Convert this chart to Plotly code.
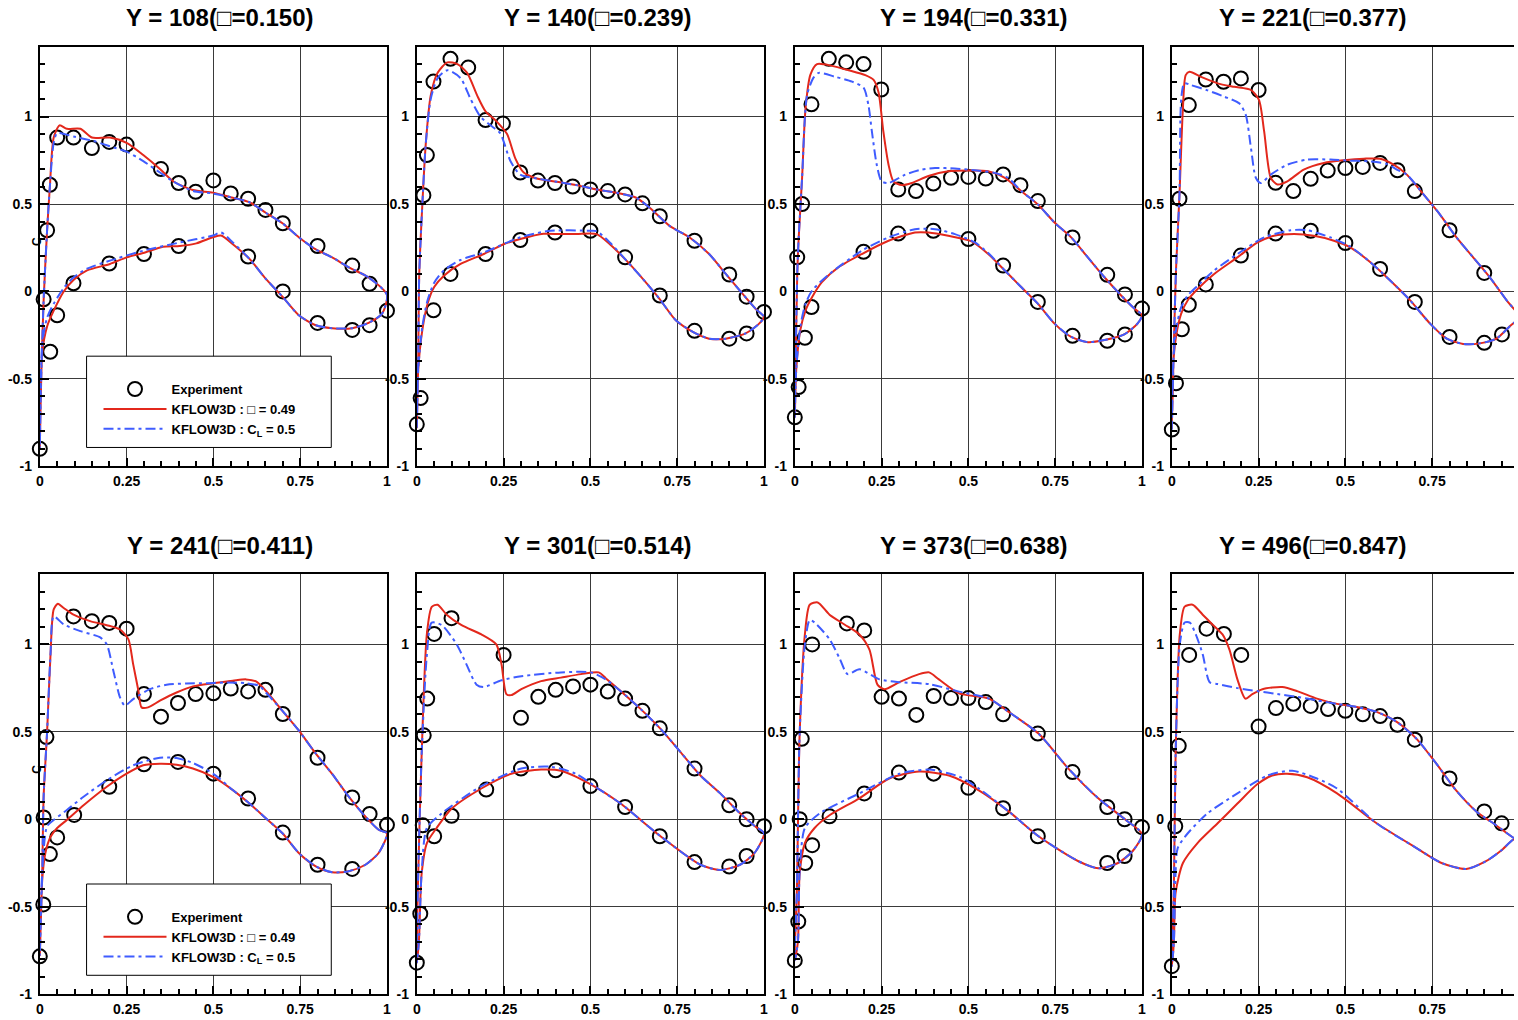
import plotly.graph_objects as go

W, H = 1518, 1020

titles = ["Y = 108(□=0.150)", "Y = 140(□=0.239)", "Y = 194(□=0.331)", "Y = 221(□=0.377)",
          "Y = 241(□=0.411)", "Y = 301(□=0.514)", "Y = 373(□=0.638)", "Y = 496(□=0.847)"]
legend_names = ["Experiment", "KFLOW3D : □ = 0.49", "KFLOW3D : C<sub>L</sub> = 0.5"]
x_tickvals = [0, 0.25, 0.5, 0.75, 1]
x_ticktext = ["0", "0.25", "0.5", "0.75", "1"]
y_tickvals = [-1, -0.5, 0, 0.5, 1]
y_ticktext = ["-1", "-0.5", "0", "0.5", "1"]

# ---------------- Panel 1 ----------------
p1_exp_x = [0, 0.011, 0.021, 0.029, 0.05, 0.097, 0.15, 0.2, 0.25, 0.349, 0.40, 0.449, 0.5, 0.55, 0.6, 0.65, 0.70, 0.80, 0.90, 0.95, 0.03, 0.05, 0.097, 0.2, 0.3, 0.4, 0.6, 0.7, 0.8, 0.9, 0.95, 1.0]
p1_exp_y = [-0.90, -0.045, 0.35, 0.61, 0.88, 0.88, 0.82, 0.855, 0.84, 0.70, 0.62, 0.57, 0.635, 0.56, 0.53, 0.466, 0.39, 0.26, 0.148, 0.044, -0.345, -0.136, 0.047, 0.16, 0.214, 0.26, 0.20, 0.0, -0.18, -0.22, -0.193, -0.11]
p1_red_up_x = [0, 0.004, 0.011, 0.021, 0.029, 0.040, 0.057, 0.078, 0.117, 0.15, 0.202, 0.25, 0.298, 0.346, 0.384, 0.441, 0.499, 0.556, 0.604, 0.651, 0.699, 0.746, 0.795, 0.842, 0.89, 0.947, 1.0]
p1_red_up_y = [-0.9, -0.5, -0.05, 0.35, 0.6, 0.88, 0.95, 0.93, 0.93, 0.88, 0.88, 0.85, 0.78, 0.70, 0.63, 0.58, 0.565, 0.536, 0.51, 0.45, 0.39, 0.31, 0.24, 0.195, 0.138, 0.08, -0.02]
p1_blue_up_x = [0, 0.004, 0.011, 0.021, 0.029, 0.040, 0.05, 0.097, 0.155, 0.202, 0.25, 0.298, 0.346, 0.384, 0.441, 0.499, 0.556, 0.604, 0.651, 0.699, 0.746, 0.795, 0.842, 0.89, 0.947, 1.0]
p1_blue_up_y = [-0.9, -0.5, -0.05, 0.35, 0.6, 0.85, 0.905, 0.886, 0.86, 0.83, 0.80, 0.745, 0.68, 0.63, 0.575, 0.56, 0.536, 0.51, 0.45, 0.39, 0.31, 0.24, 0.195, 0.138, 0.08, -0.02]
p1_red_lo_x = [0, 0.007, 0.021, 0.04, 0.069, 0.097, 0.136, 0.202, 0.25, 0.298, 0.355, 0.403, 0.451, 0.499, 0.522, 0.556, 0.604, 0.651, 0.699, 0.746, 0.795, 0.842, 0.90, 0.947, 0.986, 1.0]
p1_red_lo_y = [-0.9, -0.35, -0.2, -0.11, 0.0, 0.066, 0.12, 0.157, 0.195, 0.22, 0.256, 0.26, 0.275, 0.31, 0.32, 0.27, 0.186, 0.072, -0.03, -0.136, -0.193, -0.21, -0.21, -0.18, -0.127, -0.02]
p1_blue_lo_x = [0, 0.007, 0.021, 0.04, 0.069, 0.097, 0.136, 0.202, 0.298, 0.403, 0.499, 0.522, 0.556, 0.604, 0.651, 0.699, 0.746, 0.795, 0.842, 0.90, 0.947, 0.986, 1.0]
p1_blue_lo_y = [-0.9, -0.3, -0.15, -0.07, 0.02, 0.08, 0.13, 0.176, 0.233, 0.28, 0.32, 0.337, 0.28, 0.186, 0.072, -0.03, -0.136, -0.193, -0.21, -0.21, -0.18, -0.127, -0.02]

# ---------------- Panel 2 ----------------
p2_exp_x = [0, 0.011, 0.019, 0.029, 0.048, 0.097, 0.148, 0.198, 0.248, 0.298, 0.349, 0.398, 0.449, 0.5, 0.55, 0.6, 0.65, 0.7, 0.8, 0.9, 0.95, 1.0, 0.048, 0.097, 0.198, 0.298, 0.398, 0.5, 0.6, 0.7, 0.8, 0.9, 0.95]
p2_exp_y = [-0.76, -0.61, 0.55, 0.78, 1.2, 1.33, 1.28, 0.98, 0.96, 0.68, 0.634, 0.62, 0.60, 0.583, 0.574, 0.555, 0.504, 0.43, 0.29, 0.097, -0.03, -0.117, -0.108, 0.10, 0.214, 0.294, 0.337, 0.347, 0.195, -0.023, -0.225, -0.27, -0.24]
p2_red_up_x = [0, 0.004, 0.007, 0.016, 0.026, 0.04, 0.06, 0.088, 0.117, 0.145, 0.174, 0.198, 0.231, 0.26, 0.284, 0.308, 0.346, 0.403, 0.46, 0.518, 0.575, 0.632, 0.67, 0.728, 0.785, 0.842, 0.89, 0.938, 0.976, 1.0]
p2_red_up_y = [-0.78, -0.4, 0.1, 0.5, 0.85, 1.12, 1.25, 1.31, 1.30, 1.25, 1.12, 1.03, 0.97, 0.90, 0.76, 0.68, 0.646, 0.627, 0.608, 0.583, 0.564, 0.536, 0.48, 0.375, 0.31, 0.214, 0.10, -0.013, -0.1, -0.146]
p2_blue_up_x = [0, 0.004, 0.007, 0.016, 0.026, 0.04, 0.06, 0.088, 0.126, 0.155, 0.183, 0.212, 0.24, 0.27, 0.298, 0.346, 0.403, 0.46, 0.518, 0.575, 0.632, 0.67, 0.728, 0.785, 0.842, 0.89, 0.938, 0.976, 1.0]
p2_blue_up_y = [-0.78, -0.4, 0.1, 0.5, 0.85, 1.10, 1.22, 1.265, 1.22, 1.10, 1.0, 0.95, 0.905, 0.744, 0.668, 0.646, 0.627, 0.608, 0.583, 0.564, 0.536, 0.48, 0.375, 0.31, 0.214, 0.10, -0.013, -0.1, -0.146]
p2_red_lo_x = [0, 0.004, 0.016, 0.031, 0.05, 0.078, 0.126, 0.193, 0.25, 0.298, 0.365, 0.413, 0.46, 0.518, 0.556, 0.604, 0.651, 0.699, 0.746, 0.795, 0.842, 0.89, 0.947, 0.986, 1.0]
p2_red_lo_y = [-0.78, -0.45, -0.22, -0.07, 0.025, 0.09, 0.157, 0.214, 0.27, 0.30, 0.33, 0.328, 0.328, 0.328, 0.27, 0.176, 0.072, -0.042, -0.165, -0.231, -0.27, -0.27, -0.24, -0.184, -0.146]
p2_blue_lo_x = [0, 0.004, 0.016, 0.031, 0.05, 0.078, 0.126, 0.193, 0.298, 0.385, 0.50, 0.518, 0.556, 0.604, 0.651, 0.699, 0.746, 0.795, 0.842, 0.89, 0.947, 0.986, 1.0]
p2_blue_lo_y = [-0.78, -0.45, -0.2, -0.05, 0.05, 0.12, 0.18, 0.223, 0.31, 0.347, 0.347, 0.345, 0.28, 0.176, 0.072, -0.042, -0.165, -0.231, -0.27, -0.27, -0.24, -0.184, -0.146]

# ---------------- Panel 3 ----------------
p3_exp_x = [0, 0.011, 0.007, 0.021, 0.048, 0.098, 0.148, 0.198, 0.249, 0.298, 0.349, 0.399, 0.45, 0.5, 0.55, 0.6, 0.65, 0.70, 0.80, 0.90, 0.951, 1.0, 0.029, 0.048, 0.198, 0.298, 0.399, 0.5, 0.6, 0.70, 0.80, 0.90, 0.951]
p3_exp_y = [-0.72, -0.547, 0.195, 0.50, 1.07, 1.33, 1.31, 1.30, 1.155, 0.583, 0.574, 0.617, 0.65, 0.655, 0.646, 0.669, 0.608, 0.517, 0.309, 0.095, -0.017, -0.098, -0.265, -0.089, 0.227, 0.331, 0.347, 0.30, 0.148, -0.06, -0.254, -0.282, -0.246]
p3_red_up_x = [0, 0.007, 0.011, 0.021, 0.031, 0.045, 0.064, 0.107, 0.155, 0.203, 0.227, 0.241, 0.255, 0.27, 0.284, 0.308, 0.337, 0.385, 0.442, 0.5, 0.557, 0.605, 0.652, 0.70, 0.748, 0.796, 0.844, 0.892, 0.94, 0.978, 1.0]
p3_red_up_y = [-0.72, 0.1, 0.3, 0.65, 1.05, 1.24, 1.30, 1.29, 1.265, 1.237, 1.21, 1.14, 0.915, 0.725, 0.63, 0.608, 0.62, 0.66, 0.687, 0.691, 0.687, 0.65, 0.574, 0.498, 0.394, 0.309, 0.195, 0.081, -0.023, -0.098, -0.136]
p3_blue_up_x = [0, 0.007, 0.011, 0.021, 0.035, 0.053, 0.069, 0.117, 0.165, 0.198, 0.212, 0.222, 0.236, 0.25, 0.27, 0.318, 0.366, 0.404, 0.461, 0.519, 0.576, 0.614, 0.652, 0.70, 0.748, 0.796, 0.844, 0.892, 0.94, 0.978, 1.0]
p3_blue_up_y = [-0.72, 0.1, 0.3, 0.65, 1.12, 1.22, 1.25, 1.227, 1.2, 1.165, 1.066, 0.915, 0.725, 0.63, 0.62, 0.668, 0.697, 0.706, 0.703, 0.693, 0.678, 0.65, 0.574, 0.498, 0.394, 0.309, 0.195, 0.081, -0.023, -0.098, -0.136]
p3_red_lo_x = [0, 0.004, 0.016, 0.031, 0.05, 0.078, 0.126, 0.193, 0.27, 0.346, 0.385, 0.442, 0.509, 0.557, 0.605, 0.652, 0.70, 0.748, 0.796, 0.844, 0.892, 0.949, 0.987, 1.0]
p3_red_lo_y = [-0.72, -0.45, -0.22, -0.108, -0.032, 0.053, 0.138, 0.214, 0.29, 0.337, 0.337, 0.318, 0.286, 0.214, 0.12, 0.025, -0.07, -0.184, -0.26, -0.29, -0.278, -0.246, -0.184, -0.136]
p3_blue_lo_x = [0, 0.004, 0.016, 0.031, 0.05, 0.10, 0.193, 0.27, 0.346, 0.404, 0.461, 0.519, 0.557, 0.605, 0.652, 0.70, 0.748, 0.796, 0.844, 0.892, 0.949, 0.987, 1.0]
p3_blue_lo_y = [-0.72, -0.45, -0.2, -0.07, 0.006, 0.10, 0.233, 0.309, 0.356, 0.356, 0.328, 0.28, 0.22, 0.12, 0.025, -0.07, -0.184, -0.26, -0.29, -0.278, -0.246, -0.184, -0.136]

# ---------------- Panel 4 ----------------
p4_exp_x = [0, 0.012, 0.022, 0.049, 0.098, 0.149, 0.199, 0.25, 0.299, 0.35, 0.40, 0.449, 0.50, 0.55, 0.60, 0.65, 0.70, 0.80, 0.90, 1.0, 0.029, 0.049, 0.098, 0.199, 0.299, 0.40, 0.50, 0.60, 0.70, 0.80, 0.90, 0.951]
p4_exp_y = [-0.79, -0.525, 0.53, 1.066, 1.212, 1.199, 1.218, 1.152, 0.621, 0.574, 0.644, 0.691, 0.706, 0.712, 0.735, 0.693, 0.574, 0.35, 0.106, -0.07, -0.216, -0.076, 0.04, 0.205, 0.331, 0.347, 0.277, 0.129, -0.06, -0.26, -0.294, -0.246]
p4_red_up_x = [0, 0.006, 0.012, 0.022, 0.032, 0.04, 0.051, 0.084, 0.132, 0.18, 0.228, 0.251, 0.266, 0.285, 0.304, 0.333, 0.38, 0.438, 0.495, 0.553, 0.60, 0.639, 0.677, 0.725, 0.772, 0.82, 0.868, 0.916, 0.964, 1.0]
p4_red_up_y = [-0.79, -0.3, 0.12, 0.55, 1.05, 1.237, 1.256, 1.227, 1.19, 1.17, 1.152, 1.095, 0.915, 0.65, 0.612, 0.63, 0.697, 0.735, 0.75, 0.759, 0.759, 0.725, 0.668, 0.555, 0.441, 0.309, 0.195, 0.081, -0.05, -0.146]
p4_blue_up_x = [0, 0.006, 0.012, 0.022, 0.027, 0.036, 0.055, 0.103, 0.151, 0.194, 0.213, 0.228, 0.242, 0.256, 0.285, 0.333, 0.39, 0.457, 0.514, 0.572, 0.62, 0.648, 0.677, 0.725, 0.772, 0.82, 0.868, 0.916, 0.964, 1.0]
p4_blue_up_y = [-0.79, -0.3, 0.12, 0.55, 1.10, 1.19, 1.18, 1.15, 1.114, 1.076, 1.01, 0.82, 0.65, 0.62, 0.668, 0.725, 0.754, 0.754, 0.748, 0.744, 0.729, 0.697, 0.668, 0.555, 0.441, 0.309, 0.195, 0.081, -0.05, -0.146]
p4_red_lo_x = [0, 0.003, 0.012, 0.027, 0.046, 0.075, 0.122, 0.189, 0.247, 0.294, 0.352, 0.409, 0.467, 0.514, 0.572, 0.629, 0.686, 0.744, 0.792, 0.839, 0.887, 0.935, 0.973, 1.0]
p4_red_lo_y = [-0.79, -0.45, -0.26, -0.127, -0.05, 0.015, 0.10, 0.195, 0.28, 0.318, 0.328, 0.318, 0.29, 0.252, 0.167, 0.0625, -0.05, -0.184, -0.27, -0.30, -0.297, -0.27, -0.2, -0.146]
p4_blue_lo_x = [0, 0.003, 0.012, 0.027, 0.046, 0.075, 0.122, 0.189, 0.266, 0.342, 0.39, 0.457, 0.514, 0.572, 0.629, 0.686, 0.744, 0.792, 0.839, 0.887, 0.935, 0.973, 1.0]
p4_blue_lo_y = [-0.79, -0.45, -0.22, -0.09, -0.023, 0.034, 0.12, 0.214, 0.309, 0.35, 0.35, 0.309, 0.256, 0.167, 0.0625, -0.05, -0.184, -0.27, -0.30, -0.297, -0.27, -0.2, -0.146]

# ---------------- Panel 5 ----------------
p5_exp_x = [0, 0.01, 0.011, 0.019, 0.097, 0.15, 0.2, 0.25, 0.30, 0.349, 0.398, 0.449, 0.50, 0.55, 0.6, 0.65, 0.70, 0.80, 0.90, 0.95, 1.0, 0.029, 0.05, 0.099, 0.2, 0.30, 0.398, 0.5, 0.6, 0.70, 0.80, 0.90]
p5_exp_y = [-0.784, -0.487, 0.01, 0.47, 1.16, 1.133, 1.123, 1.09, 0.716, 0.587, 0.665, 0.716, 0.72, 0.748, 0.731, 0.74, 0.602, 0.352, 0.125, 0.03, -0.032, -0.199, -0.104, 0.025, 0.186, 0.314, 0.328, 0.261, 0.119, -0.076, -0.26, -0.284]
p5_red_up_x = [0, 0.007, 0.011, 0.021, 0.031, 0.04, 0.052, 0.069, 0.097, 0.145, 0.193, 0.231, 0.255, 0.269, 0.284, 0.293, 0.312, 0.346, 0.394, 0.441, 0.499, 0.556, 0.594, 0.623, 0.651, 0.699, 0.746, 0.795, 0.842, 0.89, 0.938, 0.976, 1.0]
p5_red_up_y = [-0.78, -0.3, 0.13, 0.5, 0.95, 1.2, 1.233, 1.208, 1.17, 1.133, 1.11, 1.085, 1.03, 0.886, 0.735, 0.64, 0.64, 0.678, 0.725, 0.76, 0.778, 0.792, 0.80, 0.788, 0.735, 0.62, 0.508, 0.375, 0.26, 0.129, 0.015, -0.06, -0.08]
p5_blue_up_x = [0, 0.007, 0.011, 0.021, 0.031, 0.04, 0.069, 0.117, 0.174, 0.193, 0.212, 0.231, 0.245, 0.269, 0.317, 0.365, 0.422, 0.479, 0.537, 0.594, 0.632, 0.651, 0.699, 0.746, 0.795, 0.842, 0.89, 0.938, 0.976, 1.0]
p5_blue_up_y = [-0.78, -0.3, 0.13, 0.5, 0.95, 1.16, 1.114, 1.076, 1.04, 1.0, 0.848, 0.697, 0.65, 0.687, 0.744, 0.769, 0.777, 0.778, 0.782, 0.778, 0.763, 0.725, 0.62, 0.508, 0.375, 0.26, 0.129, 0.015, -0.06, -0.08]
p5_red_lo_x = [0, 0.007, 0.016, 0.031, 0.05, 0.078, 0.126, 0.193, 0.25, 0.298, 0.346, 0.394, 0.441, 0.499, 0.556, 0.604, 0.651, 0.699, 0.746, 0.795, 0.842, 0.89, 0.938, 0.976, 1.0]
p5_red_lo_y = [-0.78, -0.345, -0.193, -0.1, -0.05, -0.004, 0.08, 0.186, 0.261, 0.309, 0.318, 0.312, 0.29, 0.242, 0.167, 0.09, 0.006, -0.08, -0.193, -0.269, -0.303, -0.297, -0.26, -0.193, -0.08]
p5_blue_lo_x = [0, 0.007, 0.021, 0.04, 0.078, 0.126, 0.193, 0.269, 0.346, 0.394, 0.441, 0.499, 0.556, 0.604, 0.651, 0.699, 0.746, 0.795, 0.842, 0.89, 0.938, 0.976, 1.0]
p5_blue_lo_y = [-0.78, -0.3, -0.04, -0.004, 0.053, 0.129, 0.223, 0.309, 0.352, 0.35, 0.322, 0.261, 0.167, 0.09, 0.006, -0.08, -0.193, -0.269, -0.303, -0.297, -0.26, -0.193, -0.08]

# ---------------- Panel 6 ----------------
p6_exp_x = [0, 0.01, 0.017, 0.02, 0.03, 0.05, 0.1, 0.25, 0.30, 0.35, 0.40, 0.45, 0.5, 0.55, 0.6, 0.65, 0.70, 0.80, 0.90, 0.95, 1.0, 0.05, 0.1, 0.2, 0.3, 0.4, 0.5, 0.6, 0.7, 0.8, 0.9, 0.95]
p6_exp_y = [-0.82, -0.54, -0.034, 0.48, 0.69, 1.06, 1.15, 0.94, 0.58, 0.70, 0.74, 0.76, 0.77, 0.73, 0.69, 0.62, 0.52, 0.29, 0.08, 0.0, -0.04, -0.097, 0.02, 0.17, 0.29, 0.28, 0.19, 0.07, -0.097, -0.245, -0.27, -0.21]
p6_red_up_x = [0, 0.003, 0.014, 0.029, 0.043, 0.06, 0.086, 0.129, 0.186, 0.229, 0.244, 0.258, 0.272, 0.301, 0.358, 0.415, 0.473, 0.524, 0.544, 0.587, 0.645, 0.702, 0.759, 0.817, 0.874, 0.931, 0.974, 1.0]
p6_red_up_y = [-0.82, -0.4, 0.375, 1.06, 1.215, 1.227, 1.17, 1.11, 1.057, 1.0, 0.886, 0.716, 0.71, 0.744, 0.79, 0.81, 0.83, 0.84, 0.807, 0.733, 0.63, 0.517, 0.386, 0.25, 0.148, 0.034, -0.04, -0.08]
p6_blue_up_x = [0, 0.003, 0.014, 0.029, 0.043, 0.072, 0.115, 0.143, 0.172, 0.192, 0.244, 0.301, 0.415, 0.501, 0.544, 0.587, 0.645, 0.702, 0.759, 0.817, 0.874, 0.931, 0.974, 1.0]
p6_blue_up_y = [-0.82, -0.4, 0.375, 0.94, 1.125, 1.11, 1.0, 0.886, 0.77, 0.756, 0.795, 0.818, 0.84, 0.84, 0.80, 0.733, 0.63, 0.517, 0.386, 0.25, 0.148, 0.034, -0.04, -0.08]
p6_red_lo_x = [0, 0.006, 0.014, 0.029, 0.057, 0.1, 0.186, 0.272, 0.358, 0.415, 0.501, 0.587, 0.702, 0.817, 0.874, 0.931, 0.974, 1.0]
p6_red_lo_y = [-0.82, -0.7, -0.31, -0.136, -0.05, 0.06, 0.176, 0.26, 0.284, 0.278, 0.2, 0.09, -0.097, -0.26, -0.29, -0.26, -0.19, -0.08]
p6_blue_lo_x = [0, 0.006, 0.014, 0.029, 0.072, 0.186, 0.301, 0.387, 0.458, 0.53, 0.587, 0.702, 0.817, 0.874, 0.931, 0.974, 1.0]
p6_blue_lo_y = [-0.82, -0.7, -0.3, -0.05, 0.034, 0.19, 0.29, 0.30, 0.26, 0.165, 0.09, -0.097, -0.26, -0.29, -0.26, -0.19, -0.08]

# ---------------- Panel 7 ----------------
p7_exp_x = [0, 0.01, 0.014, 0.02, 0.05, 0.15, 0.2, 0.25, 0.30, 0.35, 0.40, 0.45, 0.5, 0.55, 0.60, 0.70, 0.80, 0.90, 0.95, 1.0, 0.03, 0.05, 0.1, 0.2, 0.3, 0.4, 0.5, 0.6, 0.7, 0.9, 0.95]
p7_exp_y = [-0.807, -0.585, 0.0, 0.46, 1.0, 1.12, 1.08, 0.70, 0.69, 0.597, 0.705, 0.693, 0.693, 0.67, 0.60, 0.49, 0.27, 0.07, 0.0, -0.045, -0.25, -0.148, 0.017, 0.148, 0.267, 0.261, 0.18, 0.063, -0.097, -0.25, -0.21]
p7_red_up_x = [0, 0.006, 0.014, 0.029, 0.043, 0.066, 0.1, 0.143, 0.186, 0.215, 0.238, 0.258, 0.301, 0.358, 0.387, 0.415, 0.473, 0.559, 0.616, 0.702, 0.788, 0.874, 0.951, 1.0]
p7_red_up_y = [-0.807, -0.4, 0.49, 1.057, 1.227, 1.24, 1.17, 1.114, 1.057, 0.97, 0.77, 0.744, 0.784, 0.83, 0.84, 0.80, 0.72, 0.69, 0.614, 0.49, 0.29, 0.12, 0.0, -0.085]
p7_blue_up_x = [0, 0.006, 0.014, 0.029, 0.043, 0.057, 0.1, 0.129, 0.152, 0.186, 0.244, 0.301, 0.387, 0.473, 0.559, 0.616, 0.702, 0.788, 0.874, 0.951, 1.0]
p7_blue_up_y = [-0.807, -0.4, 0.49, 1.0, 1.14, 1.125, 1.03, 0.92, 0.83, 0.858, 0.80, 0.784, 0.773, 0.73, 0.69, 0.614, 0.49, 0.29, 0.12, 0.0, -0.085]
p7_red_lo_x = [0, 0.009, 0.014, 0.029, 0.057, 0.1, 0.186, 0.272, 0.358, 0.444, 0.53, 0.616, 0.702, 0.817, 0.874, 0.931, 0.974, 1.0]
p7_red_lo_y = [-0.807, -0.7, -0.31, -0.136, -0.05, 0.023, 0.12, 0.233, 0.273, 0.25, 0.165, 0.045, -0.097, -0.24, -0.28, -0.25, -0.18, -0.085]
p7_blue_lo_x = [0, 0.009, 0.014, 0.029, 0.072, 0.186, 0.301, 0.387, 0.473, 0.53, 0.616, 0.702, 0.817, 0.874, 0.931, 0.974, 1.0]
p7_blue_lo_y = [-0.807, -0.7, -0.3, -0.05, 0.034, 0.148, 0.26, 0.284, 0.244, 0.176, 0.045, -0.097, -0.24, -0.28, -0.25, -0.18, -0.085]

# ---------------- Panel 8 ----------------
p8_exp_x = [0, 0.01, 0.02, 0.05, 0.1, 0.15, 0.2, 0.25, 0.3, 0.35, 0.4, 0.45, 0.5, 0.55, 0.6, 0.65, 0.7, 0.8, 0.9, 0.95, 1.0]
p8_exp_y = [-0.84, -0.04, 0.42, 0.94, 1.09, 1.06, 0.94, 0.53, 0.636, 0.66, 0.648, 0.63, 0.62, 0.60, 0.59, 0.54, 0.455, 0.233, 0.045, -0.023, 0.02]
p8_red_up_x = [0, 0.006, 0.011, 0.023, 0.037, 0.06, 0.089, 0.117, 0.146, 0.166, 0.189, 0.212, 0.232, 0.261, 0.318, 0.361, 0.418, 0.476, 0.533, 0.59, 0.648, 0.705, 0.762, 0.819, 0.877, 0.934, 0.986, 1.0]
p8_red_up_y = [-0.84, -0.4, 0.375, 1.057, 1.216, 1.227, 1.17, 1.114, 1.057, 0.97, 0.8, 0.69, 0.716, 0.744, 0.756, 0.733, 0.69, 0.66, 0.642, 0.614, 0.557, 0.46, 0.318, 0.165, 0.045, -0.034, -0.108, -0.12]
p8_blue_up_x = [0, 0.006, 0.011, 0.023, 0.037, 0.052, 0.069, 0.089, 0.109, 0.132, 0.189, 0.246, 0.304, 0.361, 0.418, 0.476, 0.533, 0.59, 0.648, 0.705, 0.762, 0.819, 0.877, 0.934, 0.986, 1.0]
p8_blue_up_y = [-0.84, -0.4, 0.375, 1.0, 1.125, 1.125, 1.057, 0.943, 0.784, 0.773, 0.75, 0.733, 0.716, 0.70, 0.68, 0.66, 0.642, 0.614, 0.557, 0.46, 0.318, 0.165, 0.045, -0.034, -0.108, -0.12]
p8_red_lo_x = [0, 0.006, 0.011, 0.032, 0.074, 0.132, 0.189, 0.246, 0.289, 0.332, 0.39, 0.476, 0.59, 0.705, 0.777, 0.848, 0.905, 0.948, 0.986, 1.0]
p8_red_lo_y = [-0.84, -0.7, -0.42, -0.25, -0.136, -0.023, 0.09, 0.2, 0.25, 0.26, 0.24, 0.148, -0.023, -0.165, -0.25, -0.284, -0.24, -0.18, -0.114, -0.12]
p8_blue_lo_x = [0, 0.006, 0.011, 0.017, 0.046, 0.103, 0.189, 0.275, 0.347, 0.418, 0.476, 0.59, 0.705, 0.777, 0.848, 0.905, 0.948, 0.986, 1.0]
p8_blue_lo_y = [-0.84, -0.7, -0.3, -0.165, -0.08, 0.034, 0.148, 0.25, 0.278, 0.233, 0.176, -0.023, -0.165, -0.25, -0.284, -0.24, -0.18, -0.114, -0.12]

panels = [
    (p1_exp_x, p1_exp_y, p1_red_up_x, p1_red_up_y, p1_red_lo_x, p1_red_lo_y, p1_blue_up_x, p1_blue_up_y, p1_blue_lo_x, p1_blue_lo_y),
    (p2_exp_x, p2_exp_y, p2_red_up_x, p2_red_up_y, p2_red_lo_x, p2_red_lo_y, p2_blue_up_x, p2_blue_up_y, p2_blue_lo_x, p2_blue_lo_y),
    (p3_exp_x, p3_exp_y, p3_red_up_x, p3_red_up_y, p3_red_lo_x, p3_red_lo_y, p3_blue_up_x, p3_blue_up_y, p3_blue_lo_x, p3_blue_lo_y),
    (p4_exp_x, p4_exp_y, p4_red_up_x, p4_red_up_y, p4_red_lo_x, p4_red_lo_y, p4_blue_up_x, p4_blue_up_y, p4_blue_lo_x, p4_blue_lo_y),
    (p5_exp_x, p5_exp_y, p5_red_up_x, p5_red_up_y, p5_red_lo_x, p5_red_lo_y, p5_blue_up_x, p5_blue_up_y, p5_blue_lo_x, p5_blue_lo_y),
    (p6_exp_x, p6_exp_y, p6_red_up_x, p6_red_up_y, p6_red_lo_x, p6_red_lo_y, p6_blue_up_x, p6_blue_up_y, p6_blue_lo_x, p6_blue_lo_y),
    (p7_exp_x, p7_exp_y, p7_red_up_x, p7_red_up_y, p7_red_lo_x, p7_red_lo_y, p7_blue_up_x, p7_blue_up_y, p7_blue_lo_x, p7_blue_lo_y),
    (p8_exp_x, p8_exp_y, p8_red_up_x, p8_red_up_y, p8_red_lo_x, p8_red_lo_y, p8_blue_up_x, p8_blue_up_y, p8_blue_lo_x, p8_blue_lo_y),
]
legend_panels = {0: "legend", 4: "legend2"}

FONT = "Liberation Sans, Arial, Helvetica, sans-serif"
RED = "#e3281c"
BLUE = "#3f5cff"

# pixel layout of the panels
col_left = [36, 415, 795, 1174]
col_right = [385, 764, 1144, 1523]
row_top = [47, 579]
row_bot = [470, 1002]
title_cx = [217, 597, 975, 1316]

def px(x):
    return x / W

def py(y):
    return 1 - y / H

fig = go.Figure()

for i, (ex, ey, rux, ruy, rlx, rly, bux, buy, blx, bly) in enumerate(panels):
    for a, b in [(ex, ey), (rux, ruy), (rlx, rly), (bux, buy), (blx, bly)]:
        assert len(a) == len(b), (i, len(a), len(b))
    n = i + 1
    xa = "x" if n == 1 else f"x{n}"
    ya = "y" if n == 1 else f"y{n}"
    leg = legend_panels.get(i)
    show = leg is not None
    fig.add_trace(go.Scatter(
        x=ex, y=ey, mode="markers", name=legend_names[0], xaxis=xa, yaxis=ya,
        marker=dict(symbol="circle-open", size=14, color="black", line=dict(width=2, color="black")),
        cliponaxis=False, showlegend=show, legend=leg or "legend"))
    fig.add_trace(go.Scatter(
        x=rux[::-1] + rlx[1:], y=ruy[::-1] + rly[1:], mode="lines", name=legend_names[1],
        xaxis=xa, yaxis=ya, line=dict(color=RED, width=2, shape="spline", smoothing=0.7),
        showlegend=show, legend=leg or "legend"))
    fig.add_trace(go.Scatter(
        x=bux[::-1] + blx[1:], y=buy[::-1] + bly[1:], mode="lines", name=legend_names[2],
        xaxis=xa, yaxis=ya, line=dict(color=BLUE, width=2, dash="10px,4px,3px,4px", shape="spline", smoothing=0.7),
        showlegend=show, legend=leg or "legend"))

tickfont = dict(family=FONT, size=14, color="black", weight="bold")
layout = dict(
    width=W, height=H, margin=dict(l=0, r=0, t=0, b=0),
    paper_bgcolor="white", plot_bgcolor="white", showlegend=True,
    font=dict(family=FONT, color="black"),
)

annotations = []
shapes = []
for i in range(8):
    n = i + 1
    r, c = divmod(i, 4)
    xname = "xaxis" if n == 1 else f"xaxis{n}"
    yname = "yaxis" if n == 1 else f"yaxis{n}"
    left, right = col_left[c], col_right[c]
    right_vis = min(right, W)
    xmax = (right_vis - left) / (right - left)
    layout[xname] = dict(
        domain=[px(left), px(right_vis)], anchor="y" if n == 1 else f"y{n}",
        range=[0, xmax], tickvals=x_tickvals, ticktext=x_ticktext,
        ticks="inside", ticklen=8, tickwidth=2, tickcolor="black",
        showline=True, linewidth=2, linecolor="black", mirror=True,
        showgrid=True, gridcolor="#3a3a3a", gridwidth=1, zeroline=False,
        tickfont=tickfont, fixedrange=True, ticklabelstandoff=1,
        minor=dict(ticks="inside", ticklen=5, tickwidth=1.5, tickcolor="black",
                   tick0=0, dtick=0.05, showgrid=False),
    )
    layout[yname] = dict(
        domain=[py(row_bot[r]), py(row_top[r])], anchor="x" if n == 1 else f"x{n}",
        range=[-1, 1.4], tickvals=y_tickvals, ticktext=y_ticktext,
        ticks="inside", ticklen=9, tickwidth=2, tickcolor="black",
        showline=True, linewidth=2, linecolor="black", mirror=(c != 3),
        showgrid=True, gridcolor="#3a3a3a", gridwidth=1, zeroline=False,
        tickfont=tickfont, fixedrange=True, ticklabelstandoff=3,
        minor=dict(ticks="inside", ticklen=5, tickwidth=1.5, tickcolor="black",
                   tick0=0, dtick=0.1, showgrid=False),
    )
    annotations.append(dict(
        text=titles[i], x=px(title_cx[c]), y=py(18 + 532 * r), xref="paper", yref="paper",
        xanchor="center", yanchor="middle", showarrow=False,
        font=dict(family=FONT, size=24, color="black", weight="bold")))

# y-axis caption fragments ("C") seen in first column
for r in range(2):
    annotations.append(dict(
        text="C", x=px(33), y=py(243 + 532 * r), xref="paper", yref="paper",
        xanchor="center", yanchor="middle", showarrow=False, textangle=-90,
        font=dict(family=FONT, size=12, color="black", weight="bold")))

# legend frames
for r, lname in enumerate(["legend", "legend2"]):
    top = 359 + 532 * r
    shapes.append(dict(type="rect", xref="paper", yref="paper",
                       x0=px(83), x1=px(329), y0=py(top + 92), y1=py(top),
                       line=dict(color="black", width=1), fillcolor="white", layer="above"))
    layout[lname] = dict(
        x=px(95), y=py(top + 18), xanchor="left", yanchor="top",
        bgcolor="rgba(0,0,0,0)", borderwidth=0, itemwidth=63, tracegroupgap=0,
        font=dict(family=FONT, size=13, color="black", weight="bold"),
    )

layout["annotations"] = annotations
layout["shapes"] = shapes
fig.update_layout(**layout)
fig.write_html("out.html")
